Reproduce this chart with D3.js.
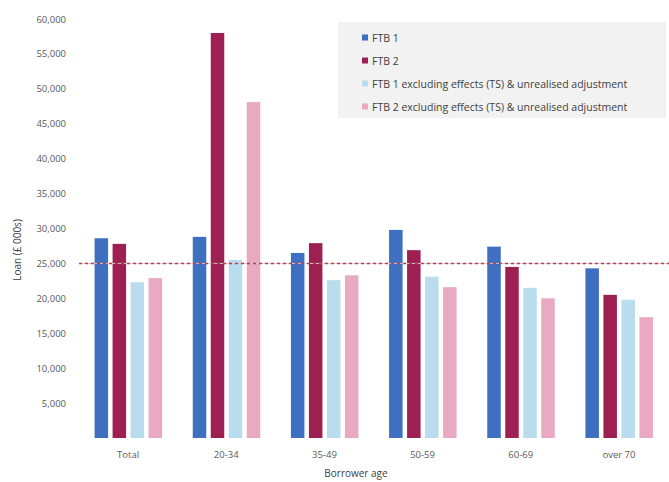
<!DOCTYPE html>
<html>
<head>
<meta charset="utf-8">
<script src="https://cdn.jsdelivr.net/npm/d3@7"></script>
<style>
  body { margin: 0; background: #fff; }
  text { font-family: "Open Sans", "DejaVu Sans", sans-serif; }
</style>
</head>
<body>
<svg id="chart" width="669" height="482"></svg>
<script>
const categories = ["Total", "20-34", "35-49", "50-59", "60-69", "over 70"];
const seriesNames = ["FTB 1", "FTB 2",
  "FTB 1 excluding effects (TS) & unrealised adjustment",
  "FTB 2 excluding effects (TS) & unrealised adjustment"];
const ftb1 = [28600, 28800, 26500, 29800, 27400, 24300];
const ftb2 = [27800, 58000, 27900, 26900, 24500, 20500];
const ftb1Excl = [22300, 25500, 22600, 23100, 21500, 19800];
const ftb2Excl = [22900, 48100, 23300, 21600, 20000, 17300];
const referenceValue = 25000;
const yTicks = [5000, 10000, 15000, 20000, 25000, 30000, 35000, 40000, 45000, 50000, 55000, 60000];
const colors = ["#3f6fc1", "#9e2052", "#b9dcef", "#e9aac1"];

const seriesValues = [ftb1, ftb2, ftb1Excl, ftb2Excl];
const svg = d3.select("#chart");

const x0 = d3.scaleBand().domain(categories).range([79, 668]);
const x1 = d3.scaleBand().domain(d3.range(4)).range([-33.5, 34]).paddingInner(0.25);
const y = d3.scaleLinear().domain([0, 60000]).range([438, 19]);

// y axis labels
const yAxis = d3.axisLeft(y).tickValues(yTicks).tickSize(0).tickPadding(0)
  .tickFormat(d3.format(","));
const gy = svg.append("g").attr("transform", "translate(66,0)").call(yAxis);
gy.select(".domain").remove();
gy.selectAll("text").attr("fill", "#595959").style("font-size", "9.5px");

// bars
const groups = svg.append("g").selectAll("g").data(categories).join("g")
  .attr("transform", d => `translate(${x0(d) + x0.bandwidth() / 2},0)`);
groups.selectAll("rect")
  .data((c, i) => seriesValues.map((s, k) => ({k, v: s[i]})))
  .join("rect")
  .attr("x", d => x1(d.k))
  .attr("width", x1.bandwidth())
  .attr("y", d => y(d.v))
  .attr("height", d => y(0) - y(d.v))
  .attr("fill", d => colors[d.k]);

// reference line
svg.append("line")
  .attr("x1", 79).attr("x2", 669)
  .attr("y1", y(referenceValue)).attr("y2", y(referenceValue))
  .attr("stroke", "#c8c8c8").attr("stroke-width", 1);
svg.append("line")
  .attr("x1", 79).attr("x2", 669)
  .attr("y1", y(referenceValue)).attr("y2", y(referenceValue))
  .attr("stroke", "#d8304f").attr("stroke-width", 1.5)
  .attr("stroke-dasharray", "3,3");

// x axis labels
const xAxis = d3.axisBottom(x0).tickSize(0).tickPadding(0);
const gx = svg.append("g").attr("transform", "translate(0,451)").call(xAxis);
gx.select(".domain").remove();
gx.selectAll("text").attr("fill", "#595959").style("font-size", "9.5px");

// axis titles
svg.append("text").attr("x", 356).attr("y", 477).attr("text-anchor", "middle")
  .attr("fill", "#404040").style("font-size", "10px").text("Borrower age");
svg.append("text")
  .attr("transform", "translate(21,250) rotate(-90)")
  .attr("text-anchor", "middle").attr("fill", "#404040").style("font-size", "10px")
  .text("Loan (£ 000s)");

// legend
const legend = svg.append("g");
legend.append("rect").attr("x", 338).attr("y", 22).attr("width", 328).attr("height", 96)
  .attr("fill", "#f2f2f2");
const items = legend.selectAll("g").data(seriesNames).join("g")
  .attr("transform", (d, i) => `translate(362,${38 + i * 23})`);
items.append("rect").attr("x", 0).attr("y", -3.5).attr("width", 6).attr("height", 6)
  .attr("fill", (d, i) => colors[i]);
items.append("text").attr("x", 10).attr("y", 0).attr("dy", "0.35em")
  .attr("fill", "#404040").style("font-size", "10.5px").text(d => d);
</script>
</body>
</html>
